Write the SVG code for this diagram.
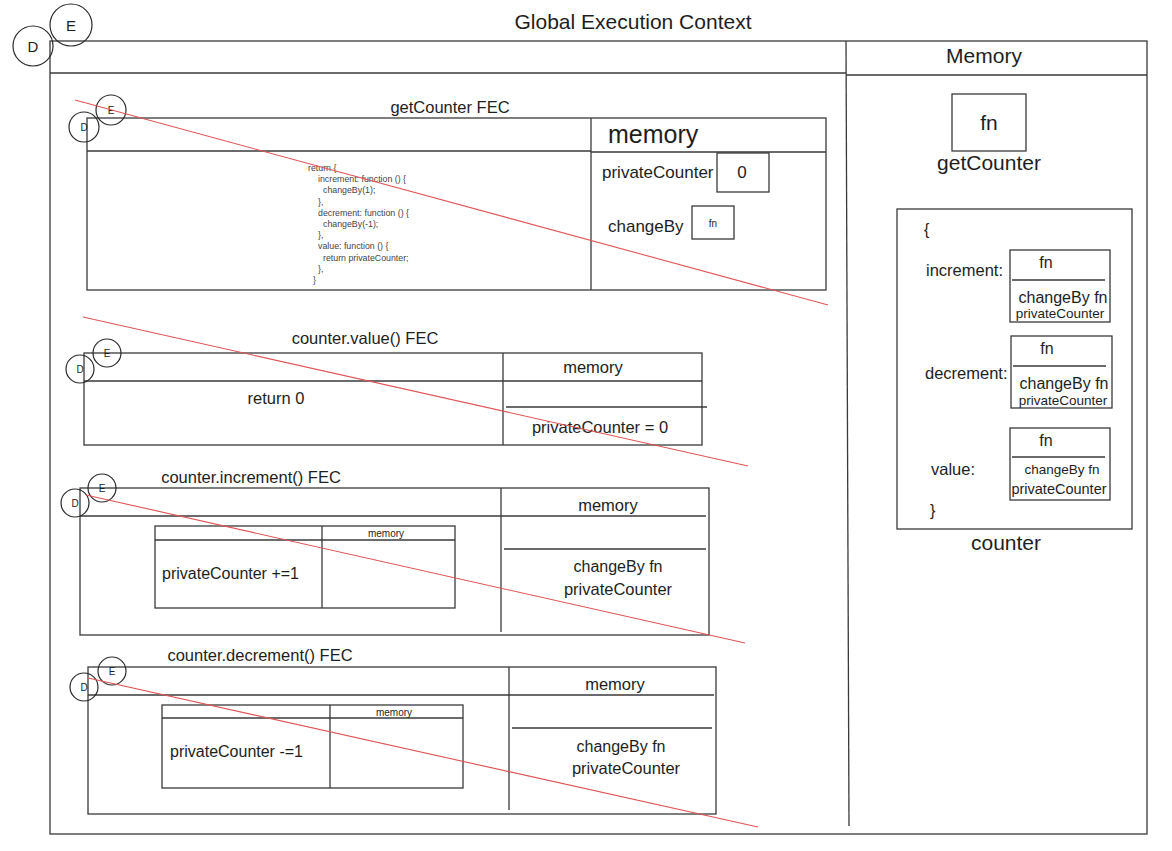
<svg xmlns="http://www.w3.org/2000/svg" width="1172" height="851" viewBox="0 0 1172 851">
<style>
.bx{fill:none;stroke:#3a3a3a;stroke-width:1.3}
.ln{stroke:#3a3a3a;stroke-width:1.3;fill:none}
.ci{fill:none;stroke:#2a2a2a;stroke-width:1.2}
.t{font-family:"Liberation Sans",Arial,sans-serif;fill:#1e1e1e}
.m{text-anchor:middle}
.code{font-family:"Liberation Sans",Arial,sans-serif;font-size:8.8px;fill:#444}
.red{stroke:#e05555;stroke-width:1.1;fill:none}
</style>
<rect width="1172" height="851" fill="#ffffff"/>

<g id="global">
  <rect class="bx" x="50" y="41" width="1097" height="793"/>
  <line class="ln" x1="50" y1="73" x2="846" y2="73"/>
  <line class="ln" x1="846" y1="75" x2="1147" y2="75"/>
  <line class="ln" x1="846" y1="41" x2="849" y2="826"/>
  <text class="t m" x="633" y="29" font-size="21">Global Execution Context</text>
  <text class="t m" x="984" y="63" font-size="21">Memory</text>
  <circle class="ci" cx="33" cy="46" r="20"/>
  <text class="t m" x="33" y="52" font-size="15">D</text>
  <circle class="ci" cx="71" cy="25" r="21"/>
  <text class="t m" x="71" y="31" font-size="15">E</text>
</g>

<g id="getCounter-fn">
  <rect class="bx" x="952" y="94" width="74" height="57"/>
  <text class="t m" x="989" y="130" font-size="21">fn</text>
  <text class="t m" x="989" y="170" font-size="21">getCounter</text>
</g>

<g id="counter-object">
  <rect class="bx" x="897" y="209" width="235" height="320"/>
  <text class="t" x="924" y="235" font-size="16">{</text>
  <text class="t" x="926" y="276" font-size="16.5">increment:</text>
  <rect class="bx" x="1010" y="250" width="100" height="72"/>
  <line class="ln" x1="1012" y1="280" x2="1105" y2="280"/>
  <text class="t m" x="1046" y="268" font-size="16">fn</text>
  <text class="t m" x="1063" y="303" font-size="16">changeBy fn</text>
  <text class="t m" x="1060" y="318" font-size="13.5">privateCounter</text>

  <text class="t" x="925" y="379" font-size="16.5">decrement:</text>
  <rect class="bx" x="1011" y="336" width="101" height="72"/>
  <line class="ln" x1="1013" y1="366" x2="1106" y2="366"/>
  <text class="t m" x="1047" y="354" font-size="16">fn</text>
  <text class="t m" x="1064" y="389" font-size="16">changeBy fn</text>
  <text class="t m" x="1063" y="405" font-size="13.5">privateCounter</text>

  <text class="t" x="931" y="475" font-size="16.5">value:</text>
  <rect class="bx" x="1010" y="428" width="100" height="72"/>
  <line class="ln" x1="1012" y1="457" x2="1105" y2="457"/>
  <text class="t m" x="1046" y="446" font-size="16">fn</text>
  <text class="t m" x="1062" y="474" font-size="13.5">changeBy fn</text>
  <text class="t m" x="1059" y="494" font-size="14.5">privateCounter</text>
  <text class="t" x="930" y="516" font-size="16">}</text>
  <text class="t m" x="1006" y="550" font-size="21">counter</text>
</g>

<g id="getCounter-fec">
  <text class="t m" x="450" y="113" font-size="16.5">getCounter FEC</text>
  <rect class="bx" x="87" y="118" width="739" height="172"/>
  <line class="ln" x1="87" y1="151" x2="591" y2="151"/>
  <line class="ln" x1="591" y1="152" x2="826" y2="152"/>
  <line class="ln" x1="591" y1="118" x2="591" y2="290"/>
  <text class="t" x="608" y="143" font-size="25">memory</text>
  <text class="t" x="602" y="178" font-size="17">privateCounter</text>
  <rect class="bx" x="717" y="153" width="52" height="39"/>
  <text class="t m" x="742" y="178" font-size="17">0</text>
  <text class="t" x="608" y="232" font-size="17">changeBy</text>
  <rect class="bx" x="692" y="206" width="42" height="33"/>
  <text class="t m" x="713" y="227" font-size="10">fn</text>
  <text class="code" x="308" y="171">return {</text>
  <text class="code" x="318" y="182">increment: function () {</text>
  <text class="code" x="323" y="193">changeBy(1);</text>
  <text class="code" x="318" y="205">},</text>
  <text class="code" x="318" y="216">decrement: function () {</text>
  <text class="code" x="323" y="227">changeBy(-1);</text>
  <text class="code" x="318" y="238">},</text>
  <text class="code" x="318" y="249">value: function () {</text>
  <text class="code" x="323" y="261">return privateCounter;</text>
  <text class="code" x="318" y="272">},</text>
  <text class="code" x="313" y="283">}</text>
  <circle class="ci" cx="84" cy="127" r="15"/>
  <text class="t m" x="84" y="131" font-size="10">D</text>
  <circle class="ci" cx="111" cy="110" r="15"/>
  <text class="t m" x="111" y="114" font-size="10">E</text>
</g>

<g id="value-fec">
  <text class="t m" x="365" y="344" font-size="16.5">counter.value() FEC</text>
  <rect class="bx" x="84" y="353" width="618" height="92"/>
  <line class="ln" x1="84" y1="381" x2="702" y2="381"/>
  <line class="ln" x1="503" y1="353" x2="503" y2="445"/>
  <line class="ln" x1="506" y1="407" x2="707" y2="407"/>
  <text class="t m" x="593" y="373" font-size="16.5">memory</text>
  <text class="t m" x="276" y="404" font-size="16.5">return 0</text>
  <text class="t m" x="600" y="433" font-size="16.5">privateCounter = 0</text>
  <circle class="ci" cx="80" cy="369" r="14"/>
  <text class="t m" x="80" y="373" font-size="10">D</text>
  <circle class="ci" cx="107" cy="353" r="14"/>
  <text class="t m" x="107" y="357" font-size="10">E</text>
</g>

<g id="increment-fec">
  <text class="t m" x="251" y="483" font-size="16.5">counter.increment() FEC</text>
  <rect class="bx" x="80" y="488" width="629" height="147"/>
  <line class="ln" x1="80" y1="516" x2="706" y2="516"/>
  <line class="ln" x1="501" y1="488" x2="501" y2="632"/>
  <line class="ln" x1="504" y1="549" x2="706" y2="549"/>
  <text class="t m" x="608" y="511" font-size="16.5">memory</text>
  <text class="t m" x="618" y="572" font-size="16">changeBy fn</text>
  <text class="t m" x="618" y="595" font-size="16.5">privateCounter</text>
  <rect class="bx" x="155" y="526" width="300" height="82"/>
  <line class="ln" x1="155" y1="540" x2="455" y2="540"/>
  <line class="ln" x1="322" y1="526" x2="322" y2="608"/>
  <text class="t m" x="386" y="537" font-size="10">memory</text>
  <text class="t" x="162" y="579" font-size="16">privateCounter +=1</text>
  <circle class="ci" cx="75" cy="503" r="14"/>
  <text class="t m" x="75" y="507" font-size="10">D</text>
  <circle class="ci" cx="102" cy="488" r="14"/>
  <text class="t m" x="102" y="492" font-size="10">E</text>
</g>

<g id="decrement-fec">
  <text class="t m" x="260" y="661" font-size="16.5">counter.decrement() FEC</text>
  <rect class="bx" x="88" y="667" width="628" height="147"/>
  <line class="ln" x1="88" y1="695" x2="714" y2="695"/>
  <line class="ln" x1="509" y1="667" x2="509" y2="810"/>
  <line class="ln" x1="512" y1="728" x2="712" y2="728"/>
  <text class="t m" x="615" y="690" font-size="16.5">memory</text>
  <text class="t m" x="621" y="752" font-size="16">changeBy fn</text>
  <text class="t m" x="626" y="774" font-size="16.5">privateCounter</text>
  <rect class="bx" x="162" y="705" width="301" height="83"/>
  <line class="ln" x1="162" y1="718" x2="463" y2="718"/>
  <line class="ln" x1="330" y1="705" x2="330" y2="788"/>
  <text class="t m" x="394" y="716" font-size="10">memory</text>
  <text class="t" x="170" y="757" font-size="16">privateCounter -=1</text>
  <circle class="ci" cx="84" cy="687" r="14"/>
  <text class="t m" x="84" y="691" font-size="10">D</text>
  <circle class="ci" cx="112" cy="671" r="14"/>
  <text class="t m" x="112" y="675" font-size="10">E</text>
</g>

<g id="connectors">
  <line class="red" x1="75" y1="100" x2="828" y2="305"/>
  <line class="red" x1="83" y1="317" x2="748" y2="466"/>
  <line class="red" x1="86" y1="495" x2="745" y2="643"/>
  <line class="red" x1="88" y1="678" x2="758" y2="827"/>
</g>
</svg>
